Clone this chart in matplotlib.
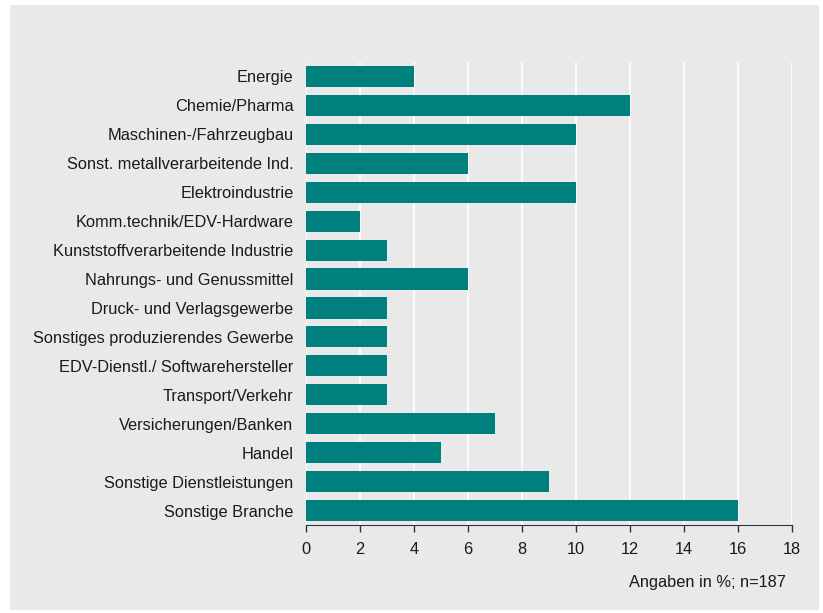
import matplotlib.pyplot as plt
from matplotlib.patches import Rectangle

plt.rcParams['font.family'] = ['Liberation Sans', 'DejaVu Sans']

branchen = ["Energie", "Chemie/Pharma", "Maschinen-/Fahrzeugbau",
            "Sonst. metallverarbeitende Ind.", "Elektroindustrie",
            "Komm.technik/EDV-Hardware", "Kunststoffverarbeitende Industrie",
            "Nahrungs- und Genussmittel", "Druck- und Verlagsgewerbe",
            "Sonstiges produzierendes Gewerbe", "EDV-Dienstl./ Softwarehersteller",
            "Transport/Verkehr", "Versicherungen/Banken", "Handel",
            "Sonstige Dienstleistungen", "Sonstige Branche"]
anteile = [4, 12, 10, 6, 10, 2, 3, 6, 3, 3, 3, 3, 7, 5, 9, 16]
xticks = [0, 2, 4, 6, 8, 10, 12, 14, 16, 18]

bg = "#e9e9e9"
fs = 11.8
fig = plt.figure(figsize=(8.23, 6.13), dpi=100)
# grauer Hintergrund mit schmalem weißen Rand
fig.patches.append(Rectangle((10 / 823, 3 / 613), 809 / 823, 605 / 613, transform=fig.transFigure,
                             facecolor=bg, edgecolor="none", zorder=-1))

ax = fig.add_axes([306 / 823, 1 - 525 / 613, 486 / 823, 463 / 613])
ax.set_facecolor(bg)

pos = list(range(len(branchen)))
ax.barh(pos, anteile, height=0.73, color="#007f7f", zorder=3)
ax.set_ylim(15.5, -0.5)
ax.set_xlim(0, 18)
ax.set_yticks(pos)
ax.set_yticklabels(branchen, fontsize=fs, color="#1a1a1a")
ax.set_xticks(xticks)
ax.set_xticklabels([str(t) for t in xticks], fontsize=fs, color="#1a1a1a")
ax.tick_params(axis="y", length=0, pad=9)
ax.tick_params(axis="x", length=5, width=1, color="#333333", pad=7, direction="out")
ax.grid(axis="x", color="white", linewidth=1.2, zorder=1)
for s in ["top", "right", "left"]:
    ax.spines[s].set_visible(False)
ax.spines["bottom"].set_color("#333333")
ax.spines["bottom"].set_zorder(4)

fig.text(786 / 823, 1 - 583 / 613, "Angaben in %; n=187", ha="right", va="center",
         fontsize=fs, color="#1a1a1a")

fig.savefig("out.png", dpi=100)
